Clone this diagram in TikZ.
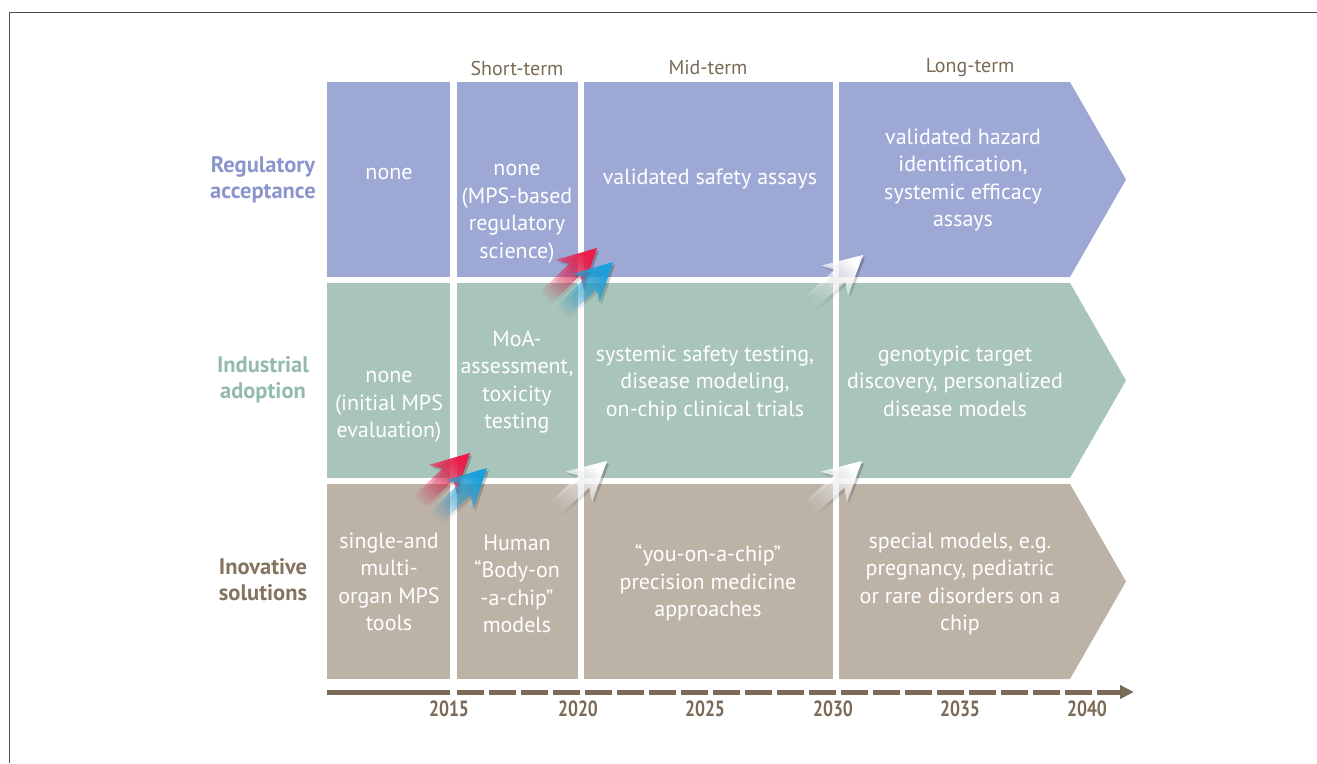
\documentclass[tikz,border=0pt]{standalone}
\usepackage{fontspec}
\setmainfont{PT Sans}
\newfontfamily\yearfont[FakeStretch=0.8]{PT Sans}
\usetikzlibrary{arrows.meta,fadings}

\definecolor{regfill}{HTML}{9DA8D5}
\definecolor{reglabel}{HTML}{8B95CC}
\definecolor{indfill}{HTML}{A8C4BB}
\definecolor{indlabel}{HTML}{93BAAC}
\definecolor{innfill}{HTML}{BCB2A6}
\definecolor{innlabel}{HTML}{84735F}
\definecolor{timebrown}{HTML}{7A6A56}
\definecolor{arrowred}{HTML}{EC1C4B}
\definecolor{arrowblue}{HTML}{1AA0DB}

\tikzfading[name=tailfade, left color=transparent!100, middle color=transparent!5, right color=transparent!0]

\tikzset{
  celltext/.style={text=white, align=center, font=\fontsize{22}{27.5}\selectfont},
  rowlabel/.style={align=center, font=\bfseries\fontsize{22.5}{26}\selectfont},
  termlabel/.style={text=timebrown, font=\fontsize{20}{22}\selectfont},
  yearlabel/.style={text=timebrown, font=\yearfont\bfseries\fontsize{22}{22}\selectfont},
}

% tip, angle, colour
\newcommand\chiparrow[3]{%
  \fill[#3, path fading=tailfade, fading angle=#2, shift={#1}, rotate=#2]
    (0,0) -- (-38,20) -- (-31,8) -- (-76,8) -- (-76,-8) -- (-31,-8) -- (-38,-20) -- cycle;}
\newcommand\chipshadow[2]{%
  \fill[black, opacity=0.22, path fading=tailfade, fading angle=#2, shift={#1}, shift={(2,2.5)}, rotate=#2]
    (0,0) -- (-38,20) -- (-31,8) -- (-76,8) -- (-76,-8) -- (-31,-8) -- (-38,-20) -- cycle;}

\begin{document}
\begin{tikzpicture}[x=1pt, y=-1pt]
  \useasboundingbox (0,0) rectangle (1317,763);
  \draw[gray!60!black, line width=1.8pt] (9.5,763) -- (9.5,12.5) -- (1317,12.5);

  % rows
  \fill[regfill] (327,82) rectangle (450,277);
  \fill[regfill] (457,82) rectangle (578,277);
  \fill[regfill] (584,82) rectangle (833,277);
  \fill[regfill] (839,82) -- (1070,82) -- (1126,179.5) -- (1070,277) -- (839,277) -- cycle;
  \fill[indfill] (327,283) rectangle (450,478);
  \fill[indfill] (457,283) rectangle (578,478);
  \fill[indfill] (584,283) rectangle (833,478);
  \fill[indfill] (839,283) -- (1070,283) -- (1126,380.5) -- (1070,478) -- (839,478) -- cycle;
  \fill[innfill] (327,484) rectangle (450,679);
  \fill[innfill] (457,484) rectangle (578,679);
  \fill[innfill] (584,484) rectangle (833,679);
  \fill[innfill] (839,484) -- (1070,484) -- (1126,581.5) -- (1070,679) -- (839,679) -- cycle;

  % headers
  \node[termlabel] (short) at (517,68) {Short-term};
  \node[termlabel] (mid) at (708,68) {Mid-term};
  \node[termlabel] (long) at (970,68) {Long-term};

  \node[rowlabel, text=reglabel] (reg) at (263,180) {Regulatory\\acceptance};
  \node[rowlabel, text=indlabel] (ind) at (263,380) {Industrial\\adoption};
  \node[rowlabel, text=innlabel] (inn) at (263,580) {Inovative\\solutions};

  % cell texts
  \node[celltext] (reg1) at (389,174) {none};
  \node[celltext] (reg2) at (517,214) {none\\(MPS-based\\regulatory\\science)};
  \node[celltext] (reg3) at (710,179) {validated safety assays};
  \node[celltext] (reg4) at (963,180) {validated hazard\\identification,\\systemic efficacy\\assays};

  \node[celltext] (ind1) at (389,407) {none\\(initial MPS\\evaluation)};
  \node[celltext] (ind2) at (517,382) {MoA-\\assessment,\\toxicity\\testing};
  \node[celltext] (ind3) at (705,383) {systemic safety testing,\\disease modeling,\\on-chip clinical trials};
  \node[celltext] (ind4) at (955,381) {genotypic target\\discovery, personalized\\disease models};

  \node[celltext] (inn1) at (389,582) {single-and\\multi-\\organ MPS\\tools};
  \node[celltext] (inn2) at (517,584) {Human\\“Body-on\\-a-chip”\\models};
  \node[celltext] (inn3) at (708,583) {“you-on-a-chip”\\precision medicine\\approaches};
  \node[celltext] (inn4) at (960,584) {special models, e.g.\\pregnancy, pediatric\\or rare disorders on a\\chip};

  % transitions
  \chipshadow{(470,453)}{44}
  \chiparrow{(470,453)}{44}{arrowred}
  \chipshadow{(487,468)}{44}
  \chiparrow{(487,468)}{44}{arrowblue}
  \chipshadow{(597,248)}{44}
  \chiparrow{(597,248)}{44}{arrowred}
  \chipshadow{(613,262)}{44}
  \chiparrow{(613,262)}{44}{arrowblue}
  \chipshadow{(607,461)}{42}
  \chiparrow{(607,461)}{42}{white}
  \chipshadow{(862,461)}{42}
  \chiparrow{(862,461)}{42}{white}
  \chipshadow{(863,255)}{42}
  \chiparrow{(863,255)}{42}{white}

  % time line
  \coordinate (t0) at (327,692);
  \coordinate (t1) at (450,692);
  \coordinate (t2) at (457,692);
  \coordinate (t3) at (1134,692);
  \draw[timebrown, line width=5pt] (t0) -- (t1);
  \draw[timebrown, line width=5pt, dash pattern=on 27pt off 5pt,
        -{Triangle[length=14pt, width=13pt]}] (t2) -- (t3);
  \foreach \yr/\xx in {2015/449, 2020/578, 2025/705, 2030/833, 2035/960, 2040/1087}
    \node[yearlabel] (y\yr) at (\xx,709) {\yr};
\end{tikzpicture}
\end{document}
